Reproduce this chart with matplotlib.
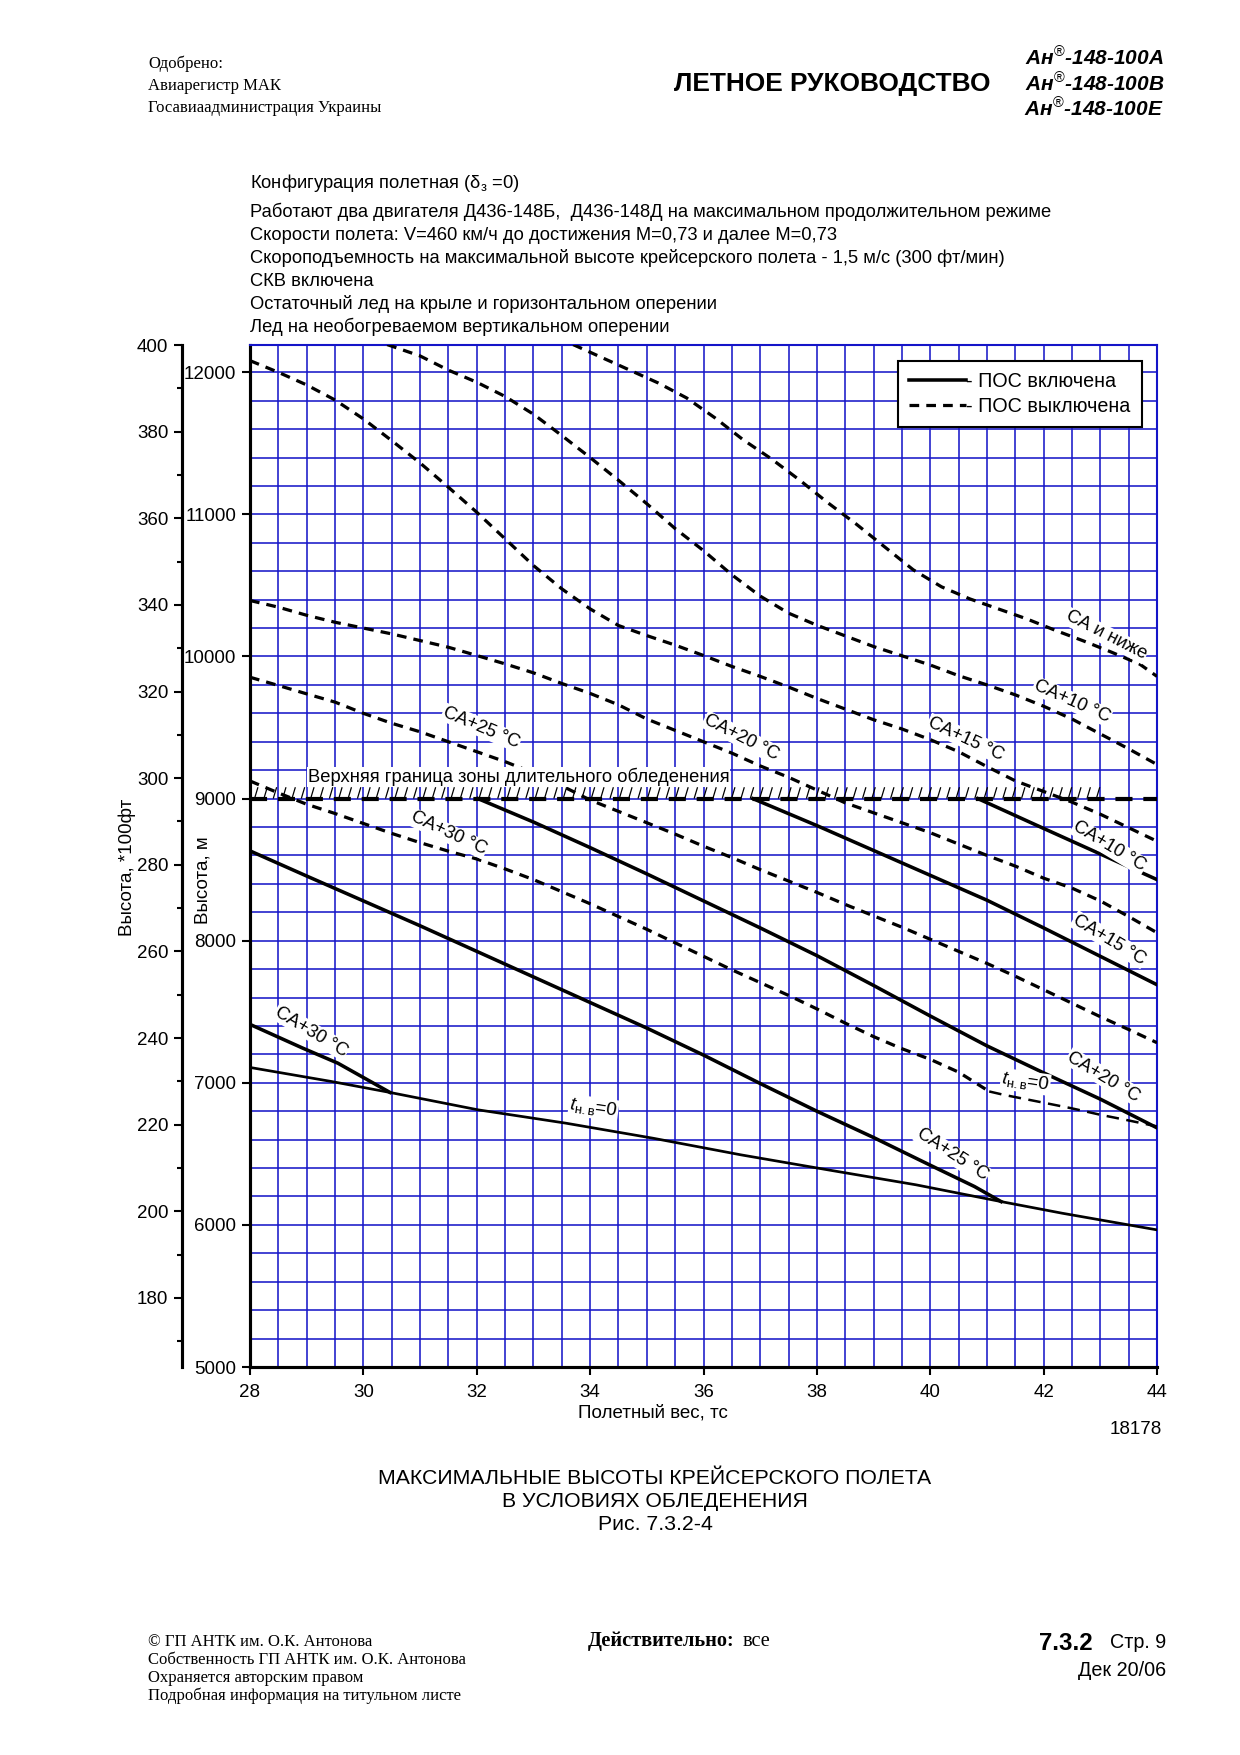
import numpy as np
import matplotlib
matplotlib.use('Agg')
import matplotlib.pyplot as plt
from matplotlib.lines import Line2D
from matplotlib.collections import LineCollection

plt.rcParams['font.family'] = ['Liberation Sans', 'DejaVu Sans']
plt.rcParams['mathtext.fontset'] = 'custom'
plt.rcParams['mathtext.rm'] = 'Liberation Sans'
plt.rcParams['mathtext.it'] = 'Liberation Sans:italic'
plt.rcParams['mathtext.bf'] = 'Liberation Sans:bold'

# ---- data: ПОС выключена (dashed), x = вес, тс; y = высота, м
x_d_ca0 = [33.7, 34.2, 34.7, 35.2, 35.7, 36.2, 36.7, 37.2, 37.7, 38.2, 38.7, 39.2, 39.7, 40.2, 40.7, 41.2, 41.7, 42.2, 42.7, 43.2, 43.7, 44.0]
y_d_ca0 = [12195, 12105, 12015, 11925, 11820, 11680, 11525, 11390, 11240, 11080, 10930, 10770, 10610, 10490, 10405, 10335, 10265, 10185, 10110, 10030, 9945, 9860]

x_d_ca10 = [30.42, 31.0, 31.5, 32.0, 32.5, 33.0, 33.5, 34.0, 34.5, 35.0, 35.5, 36.0, 36.5, 37.0, 37.5, 38.0, 38.5, 39.0, 39.5, 40.0, 40.5, 41.0, 41.5, 42.0, 42.5, 43.0, 43.5, 44.0]
y_d_ca10 = [12195, 12115, 12015, 11930, 11830, 11705, 11555, 11400, 11240, 11075, 10900, 10745, 10575, 10425, 10305, 10220, 10145, 10070, 10005, 9940, 9865, 9800, 9730, 9650, 9560, 9455, 9350, 9240]

x_d_ca15 = [28.0, 28.5, 29.0, 29.5, 30.0, 30.5, 31.0, 31.5, 32.0, 32.5, 33.0, 33.5, 34.0, 34.5, 35.0, 35.5, 36.0, 36.5, 37.0, 37.5, 38.0, 38.5, 39.0, 39.5, 40.0, 40.5, 41.0, 41.5, 42.0, 42.5, 43.0, 43.5, 44.0]
y_d_ca15 = [12082, 12000, 11911, 11805, 11672, 11519, 11362, 11191, 11015, 10828, 10640, 10476, 10335, 10218, 10147, 10080, 10007, 9930, 9860, 9785, 9705, 9630, 9555, 9490, 9415, 9330, 9225, 9125, 9050, 8975, 8890, 8795, 8700]

x_d_ca20 = [28.0, 28.5, 29.0, 29.5, 30.0, 30.5, 31.0, 31.5, 32.0, 32.5, 33.0, 33.5, 34.0, 34.5, 35.0, 35.5, 36.0, 36.5, 37.0, 37.5, 38.0, 38.5, 39.0, 39.5, 40.0, 40.5, 41.0, 41.5, 42.0, 42.5, 43.0, 43.5, 44.0]
y_d_ca20 = [10394, 10347, 10290, 10241, 10200, 10159, 10112, 10065, 10007, 9948, 9885, 9810, 9740, 9660, 9560, 9480, 9400, 9320, 9230, 9150, 9060, 8970, 8900, 8830, 8760, 8680, 8600, 8525, 8440, 8370, 8280, 8170, 8056]

x_d_ca25 = [28.0, 28.5, 29.0, 29.5, 30.0, 30.5, 31.0, 31.5, 32.0, 32.5, 33.0, 33.5, 34.0, 34.5, 35.0, 35.5, 36.0, 36.5, 37.0, 37.5, 38.0, 38.5, 39.0, 39.5, 40.0, 40.5, 41.0, 41.5, 42.0, 42.5, 43.0, 43.5, 44.0]
y_d_ca25 = [9854, 9796, 9737, 9679, 9600, 9530, 9470, 9400, 9330, 9260, 9180, 9090, 8990, 8910, 8830, 8750, 8665, 8585, 8500, 8420, 8340, 8255, 8175, 8095, 8010, 7925, 7840, 7750, 7655, 7560, 7465, 7375, 7282]

x_d_ca30 = [28.0, 28.5, 29.0, 29.5, 30.0, 30.5, 31.0, 31.5, 32.0, 32.5, 33.0, 33.5, 34.0, 34.5, 35.0, 35.5, 36.0, 36.5, 37.0, 37.5, 38.0, 38.5, 39.0, 39.5, 40.0, 40.5, 41.04]
y_d_ca30 = [9124, 9040, 8960, 8895, 8825, 8755, 8690, 8630, 8575, 8505, 8430, 8345, 8260, 8170, 8080, 7985, 7890, 7795, 7705, 7615, 7520, 7420, 7325, 7240, 7165, 7075, 6939]

x_d_t0 = [41.04, 41.3, 42.0, 42.5, 43.0, 43.5, 44.0]
y_d_t0 = [6939, 6915, 6860, 6820, 6775, 6735, 6693]

# ---- ПОС включена (solid)
x_s_ca10 = [40.84, 42.0, 43.0, 44.0]
y_s_ca10 = [9000, 8790, 8610, 8430]

x_s_ca15 = [36.87, 38.0, 39.0, 40.0, 41.0, 42.0, 43.0, 44.0]
y_s_ca15 = [9000, 8810, 8635, 8460, 8285, 8090, 7890, 7690]

x_s_ca20 = [32.02, 33.0, 34.0, 35.0, 36.0, 37.0, 38.0, 39.0, 40.0, 41.0, 42.0, 43.0, 44.0]
y_s_ca20 = [9000, 8835, 8655, 8470, 8280, 8090, 7895, 7685, 7470, 7260, 7070, 6885, 6683]

x_s_ca25 = [28.0, 29.0, 30.0, 31.0, 32.0, 33.0, 34.0, 35.0, 36.0, 37.0, 38.0, 39.0, 40.0, 40.78, 41.25]
y_s_ca25 = [8632, 8455, 8280, 8105, 7925, 7745, 7565, 7385, 7195, 6995, 6800, 6615, 6420, 6270, 6164]

x_s_ca30 = [28.0, 28.93, 29.55, 30.47]
y_s_ca30 = [7411, 7244, 7138, 6932]

x_s_t0 = [28.0, 29.44, 30.47, 32.02, 33.57, 35.11, 36.66, 38.2, 39.75, 41.25, 42.33, 44.0]
y_s_t0 = [7108, 7009, 6932, 6810, 6716, 6610, 6493, 6387, 6282, 6164, 6082, 5965]

ice_limit = 9000
x_ticks = [28, 30, 32, 34, 36, 38, 40, 42, 44]
m_ticks = [5000, 6000, 7000, 8000, 9000, 10000, 11000, 12000]
ft_ticks = [180, 200, 220, 240, 260, 280, 300, 320, 340, 360, 380, 400]

# curve labels: (text, x, y, rotation)
labels_dashed = [
    ('СА и ниже', 43.1, 10148, -27),
    ('СА+10 °С', 42.5, 9683, -24),
    ('СА+15 °С', 40.63, 9420, -25),
    ('СА+20 °С', 36.67, 9430, -27),
    ('СА+25 °С', 32.08, 9500, -23),
    ('СА+30 °С', 31.5, 8754, -25),
]
labels_solid = [
    ('СА+10 °С', 43.16, 8662, -31),
    ('СА+15 °С', 43.16, 8007, -31),
    ('СА+20 °С', 43.06, 7042, -31),
    ('СА+25 °С', 40.39, 6493, -33),
    ('СА+30 °С', 29.08, 7359, -31),
]
labels_t0 = [(34.06, 6824), (41.68, 7007)]

W, H = 1240, 1755


def P(x, y):
    return x / W, 1 - y / H


fig = plt.figure(figsize=(W / 150, H / 150), dpi=150)
ax = fig.add_axes([250 / W, 1 - 1367 / H, 907 / W, 1022 / H])

ylim = (5000, 12192)
ax.set_xlim(28, 44)
ax.set_ylim(*ylim)

grid_c = '#1414c8'
ax.set_xticks(x_ticks)
ax.set_xticks(np.arange(28, 44.01, 0.5), minor=True)
ax.set_yticks(m_ticks)
ax.set_yticks(np.arange(5000, 12001, 200), minor=True)
ax.grid(which='both', color=grid_c, lw=0.75, zorder=0)
ax.set_axisbelow(True)
ax.tick_params(which='minor', length=0)
ax.tick_params(which='major', direction='out', length=4, width=1.0, labelsize=9, pad=2.5)
ax.tick_params(axis='x', pad=4)
for s in ['top', 'right']:
    ax.spines[s].set_color(grid_c)
    ax.spines[s].set_linewidth(1.0)
for s in ['left', 'bottom']:
    ax.spines[s].set_color('black')
    ax.spines[s].set_linewidth(1.5)

# feet axis
ax2 = ax.twinx()
ax2.set_ylim(ylim[0] / 30.48, ylim[1] / 30.48)
ax2.yaxis.tick_left()
ax2.spines['left'].set_position(('outward', 68 * 72 / 150))
ax2.spines['left'].set_linewidth(1.5)
for s in ['top', 'right', 'bottom']:
    ax2.spines[s].set_visible(False)
ax2.set_yticks(ft_ticks)
ax2.set_yticks(np.arange(170, 400, 10), minor=True)
ax2.tick_params(which='major', direction='out', length=4, width=1.0, labelsize=9, pad=2.5)
ax2.tick_params(which='minor', direction='out', length=2.5, width=1.0)

dash = (0, (3, 2.2))
lw_d, lw_s = 1.55, 1.7
for xs, ys in [(x_d_ca0, y_d_ca0), (x_d_ca10, y_d_ca10), (x_d_ca15, y_d_ca15),
               (x_d_ca20, y_d_ca20), (x_d_ca25, y_d_ca25), (x_d_ca30, y_d_ca30)]:
    ax.plot(xs, ys, color='black', lw=lw_d, linestyle=dash, zorder=3)
ax.plot(x_d_t0, y_d_t0, color='black', lw=1.2, linestyle=(0, (5, 3)), zorder=3)

for xs, ys in [(x_s_ca10, y_s_ca10), (x_s_ca15, y_s_ca15), (x_s_ca20, y_s_ca20),
               (x_s_ca25, y_s_ca25), (x_s_ca30, y_s_ca30)]:
    ax.plot(xs, ys, color='black', lw=lw_s, zorder=3)
ax.plot(x_s_t0, y_s_t0, color='black', lw=1.3, zorder=3)

# upper limit of continuous icing zone
ax.axhline(ice_limit, color='black', lw=2.0, linestyle=(0, (4.1, 2.6)), zorder=3)
hx = np.arange(28.08, 43.0, 0.165)
segs = [[(x, ice_limit), (x + 0.06, ice_limit + 80)] for x in hx]
ax.add_collection(LineCollection(segs, colors='black', linewidths=0.6, zorder=3))
ax.text(29.02, 9088, 'Верхняя граница зоны длительного обледенения', fontsize=8.8,
        ha='left', va='bottom', zorder=4,
        bbox=dict(fc='white', ec='none', pad=0.3))

box = dict(fc='white', ec='none', pad=0.4)
for s, x, y, r in labels_dashed + labels_solid:
    ax.text(x, y, s, fontsize=8.8, rotation=r, ha='center', va='center',
            rotation_mode='anchor', bbox=box, zorder=5)
for x, y in labels_t0:
    ax.text(x, y, r'$t_{\mathrm{н.в}}$=0', fontsize=9, rotation=-8, ha='center',
            va='center', rotation_mode='anchor', bbox=box, zorder=5)

handles = [Line2D([], [], color='black', lw=lw_s),
           Line2D([], [], color='black', lw=lw_d, linestyle=dash)]
leg = ax.legend(handles, ['- ПОС включена', '- ПОС выключена'], loc='upper right',
                bbox_to_anchor=(0.983, 0.984), borderaxespad=0, fontsize=9.5,
                handlelength=2.9, handletextpad=0.0, fancybox=False, framealpha=1,
                edgecolor='black', borderpad=0.55, labelspacing=0.3)
leg.get_frame().set_linewidth(1.0)
leg.set_zorder(6)

# axis titles
fig.text(*P(127, 867), 'Высота, *100фт', rotation=90, ha='center', va='center', fontsize=9)
fig.text(*P(203, 880), 'Высота, м', rotation=90, ha='center', va='center', fontsize=9)
fig.text(*P(653, 1413), 'Полетный вес, тс', ha='center', va='center', fontsize=9)
fig.text(*P(1162, 1429), '18178', ha='right', va='center', fontsize=9)

# description
desc = [
    'Работают два двигателя Д436-148Б,  Д436-148Д на максимальном продолжительном режиме',
    'Скорости полета: V=460 км/ч до достижения М=0,73 и далее М=0,73',
    'Скороподъемность на максимальной высоте крейсерского полета - 1,5 м/с (300 фт/мин)',
    'СКВ включена',
    'Остаточный лед на крыле и горизонтальном оперении',
    'Лед на необогреваемом вертикальном оперении',
]
fig.text(*P(250, 183), r'Конфигурация полетная (δ$_{\mathrm{з}}$ =0)', ha='left', va='center', fontsize=8.8)
for i, s in enumerate(desc):
    fig.text(*P(250, 212 + i * 23.0), s, ha='left', va='center', fontsize=8.8)

# header
serif = ['Liberation Serif', 'DejaVu Serif']
for i, s in enumerate(['Одобрено:', 'Авиарегистр МАК', 'Госавиаадминистрация Украины']):
    fig.text(*P(148, 64 + i * 22), s, ha='left', va='center', fontsize=8, family=serif)
fig.text(*P(990, 84), 'ЛЕТНОЕ РУКОВОДСТВО', ha='right', va='center', fontsize=12.6,
         fontweight='bold')
for i, s in enumerate(['А', 'В', 'Е']):
    fig.text(*P(1164, 58 + i * 25.5), 'Ан$^{®}$-148-100' + s, ha='right', va='center',
             fontsize=10, fontweight='bold', style='italic')

# caption
for i, s in enumerate(['МАКСИМАЛЬНЫЕ ВЫСОТЫ КРЕЙСЕРСКОГО ПОЛЕТА', 'В УСЛОВИЯХ ОБЛЕДЕНЕНИЯ',
                       'Рис. 7.3.2-4']):
    fig.text(*P(655, 1478 + i * 23.5), s, ha='center', va='center', fontsize=10.2)

# footer
for i, s in enumerate(['© ГП АНТК им. О.К. Антонова', 'Собственность ГП АНТК им. О.К. Антонова',
                       'Охраняется авторским правом', 'Подробная информация на титульном листе']):
    fig.text(*P(148, 1642 + i * 18), s, ha='left', va='center', fontsize=8, family=serif)
fig.text(*P(588, 1641), 'Действительно:', ha='left', va='center', fontsize=9.8,
         family=serif, fontweight='bold')
fig.text(*P(743, 1641), 'все', ha='left', va='center', fontsize=9.8, family=serif)
fig.text(*P(1093, 1643), '7.3.2', ha='right', va='center', fontsize=11.5, fontweight='bold')
fig.text(*P(1166, 1643), 'Стр. 9', ha='right', va='center', fontsize=9.5)
fig.text(*P(1166, 1671), 'Дек 20/06', ha='right', va='center', fontsize=9.5)

fig.savefig('out.png', dpi=150, facecolor='white')
